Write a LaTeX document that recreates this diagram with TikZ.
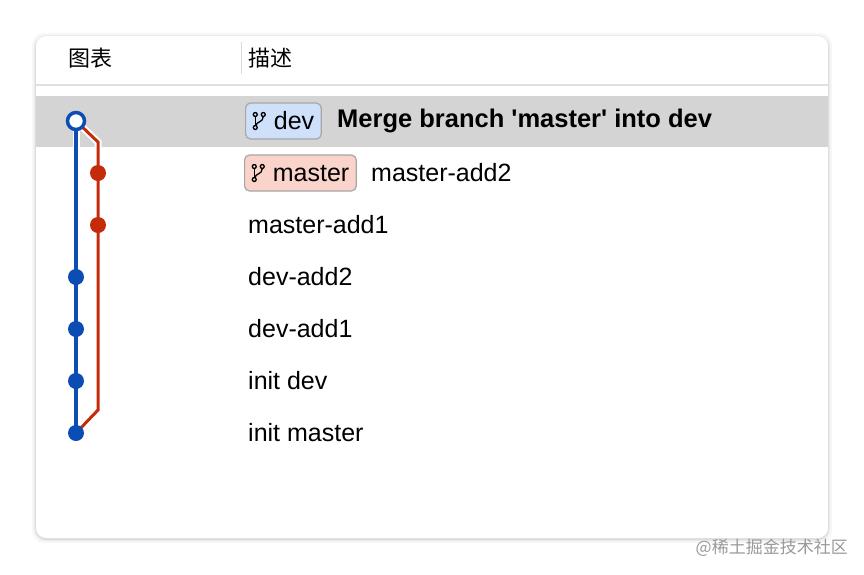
\documentclass[tikz,border=0pt]{standalone}
\usepackage{fontspec}
\setmainfont{Liberation Sans}
\newfontfamily\cjk{Noto Sans CJK SC}
\begin{document}
\begin{tikzpicture}[x=1pt,y=-1pt,
  txt/.style={anchor=west,inner sep=0pt,font=\fontsize{25}{28}\selectfont},
  badge/.style={draw=black!35,line width=1.2pt,rounded corners=5pt,inner xsep=7pt,inner ysep=0pt,text height=20,text depth=3,anchor=west,font=\fontsize{25}{28}\selectfont,minimum height=36},
  dotb/.style={circle,inner sep=0pt,minimum size=16}]
\definecolor{gb}{HTML}{0B4DB3}\definecolor{gr}{HTML}{C42B0B}
\definecolor{bb}{HTML}{CFE1FA}\definecolor{br}{HTML}{FAD3CB}
\useasboundingbox (0,0) rectangle (864,574);
\fill[white] (0,0) rectangle (864,574);
\foreach \i/\o in {4/0.03,2/0.05,1/0.06}{\fill[black,opacity=\o,rounded corners=12] (36-\i,36-\i+1) rectangle (828+\i,538+\i+1);}
\fill[white,rounded corners=10] (36,36) rectangle (828,538);
\node[txt,font=\cjk\fontsize{22}{26}\selectfont] (h1) at (68,58) {图表};
\node[txt,font=\cjk\fontsize{22}{26}\selectfont] (h2) at (248,58) {描述};
\draw[black!15,line width=1pt] (241,42) -- (241,74);
\draw[black!12,line width=2pt] (36,85) -- (828,85);
\fill[black!17] (36,96) rectangle (828,147);
% graph
\coordinate (r1) at (76,121);\coordinate (r7) at (76,433);
\coordinate (a) at (98,142);\coordinate (b) at (98,410);
\draw[white,line width=7pt] (r1) -- (r7);
\draw[white,line width=7pt,line join=miter] (r1) -- (a) -- (b) -- (r7);
\draw[gr,line width=3pt,line join=miter] (r1) -- (a) -- (b) -- (r7);
\draw[gb,line width=3.5pt] (r1) -- (r7);
\node[circle,draw=gb,fill=white,line width=3.5pt,minimum size=17,inner sep=0pt] (c1) at (r1) {};
\node[dotb,fill=gr] (c2) at (98,173) {};
\node[dotb,fill=gr] (c3) at (98,225) {};
\node[dotb,fill=gb] (c4) at (76,277) {};
\node[dotb,fill=gb] (c5) at (76,329) {};
\node[dotb,fill=gb] (c6) at (76,381) {};
\node[dotb,fill=gb] (c7) at (r7) {};
% badges
\newcommand{\brIcon}{\tikz[baseline=0pt,x=1pt,y=1pt,line width=1.3pt]{\draw (0,2)circle(2) (0,15)circle(2) (8,15)circle(2); \draw(0,13)--(0,4); \draw (8,13) .. controls (8,7) and (1,8) .. (0.7,4);}}
\node[badge,fill=bb] (bd) at (245,121) {\brIcon\hspace{8pt}dev};
\node[txt,font=\bfseries\fontsize{25.5}{28}\selectfont] (t1) at (337,121) {Merge branch \textquotesingle master\textquotesingle{} into dev};
\node[badge,fill=br] (bm) at (244,173) {\brIcon\hspace{8pt}master};
\node[txt] (t2) at (371,173) {master-add2};
\node[txt] (t3) at (248,225) {master-add1};
\node[txt] (t4) at (248,277) {dev-add2};
\node[txt] (t5) at (248,329) {dev-add1};
\node[txt] (t6) at (248,381) {init dev};
\node[txt] (t7) at (248,433) {init master};
\node[anchor=east,inner sep=0pt,text=black!40,font=\cjk\fontsize{17}{20}\selectfont] (wm) at (848,548) {@稀土掘金技术社区};
\end{tikzpicture}
\end{document}
